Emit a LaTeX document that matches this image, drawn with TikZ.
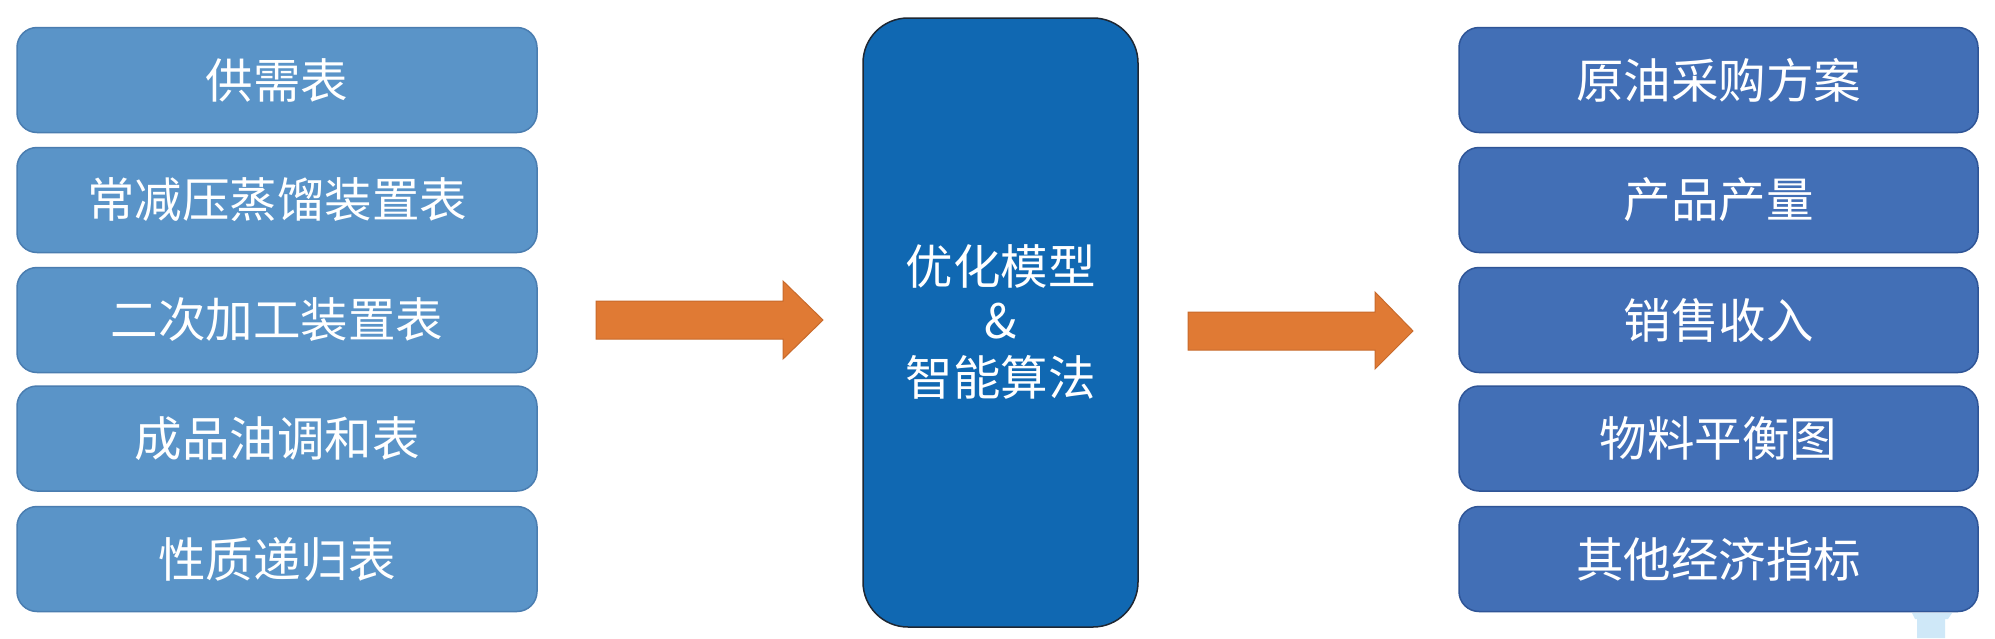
\documentclass[tikz,border=0pt]{standalone}
\usepackage{fontspec}
\setmainfont{Noto Sans CJK SC}
\definecolor{lfill}{HTML}{5A94C8}
\definecolor{ldraw}{HTML}{4A7DB0}
\definecolor{rfill}{HTML}{426FB6}
\definecolor{rdraw}{HTML}{2F5597}
\definecolor{cfill}{HTML}{1068B2}
\definecolor{cdraw}{HTML}{1E2733}
\definecolor{afill}{HTML}{E07A34}
\definecolor{adraw}{HTML}{C86A2C}
\definecolor{ghost}{HTML}{CFE8F8}
\begin{document}
\begin{tikzpicture}[x=1pt,y=-1pt,
  every node/.style={inner sep=0pt, outer sep=0pt},
  lbox/.style={draw=ldraw, line width=1.5pt, fill=lfill, rounded corners=20pt,
    minimum width=520pt, minimum height=105pt, text=white,
    font=\fontsize{47.5}{56}\selectfont},
  rbox/.style={draw=rdraw, line width=1.5pt, fill=rfill, rounded corners=20pt,
    minimum width=519pt, minimum height=105pt, text=white,
    font=\fontsize{47.5}{56}\selectfont},
  cbox/.style={draw=cdraw, line width=1.5pt, fill=cfill, rounded corners=45pt,
    minimum width=275pt, minimum height=609pt},
  ctext/.style={text=white, font=\fontsize{47.5}{56}\selectfont},
  bigarrow/.style={fill=afill, draw=adraw, line width=1pt, line join=miter}
]
\useasboundingbox (0,0) rectangle (1995,638);
\fill[white] (0,0) rectangle (1995,638);

% left column
\node[lbox] (l1) at (277,80)  {供需表};
\node[lbox] (l2) at (277,200) {常减压蒸馏装置表};
\node[lbox] (l3) at (277,320) {二次加工装置表};
\node[lbox] (l4) at (277,438.5) {成品油调和表};
\node[lbox] (l5) at (277,559) {性质递归表};

% center
\node[cbox] (c) at (1000.5,322.5) {};
\node[ctext] (c1) at (1000.5,266) {优化模型};
\node[ctext] (c2) at (1000.5,321) {\&};
\node[ctext] (c3) at (1000.5,377) {智能算法};

% right column
\node[rbox] (r1) at (1718.5,80)  {原油采购方案};
\node[rbox] (r2) at (1718.5,200) {产品产量};
\node[rbox] (r3) at (1718.5,320) {销售收入};
\node[rbox] (r4) at (1718.5,438.5) {物料平衡图};
\node[rbox] (r5) at (1718.5,559) {其他经济指标};

% arrows
\draw[bigarrow] (596,301) -- (783,301) -- (783,281) -- (823,320) -- (783,359)
  -- (783,339) -- (596,339) -- cycle;
\draw[bigarrow] (1188,312) -- (1375,312) -- (1375,292) -- (1413,331) -- (1375,369)
  -- (1375,350) -- (1188,350) -- cycle;

% faint fragment at bottom right
\fill[ghost] (1912,613) -- (1952,613) -- (1948,619) -- (1945,619) -- (1945,638)
  -- (1917,638) -- (1917,619) -- (1915,619) -- cycle;
\end{tikzpicture}
\end{document}
